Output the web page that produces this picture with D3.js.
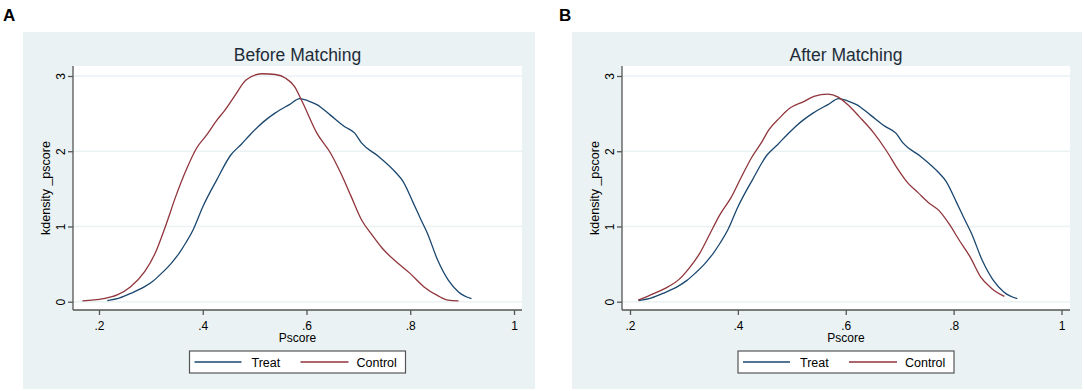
<!DOCTYPE html>
<html>
<head>
<meta charset="utf-8">
<script src="https://cdn.jsdelivr.net/npm/d3@7"></script>
<style>
  body { margin: 0; background: #ffffff; }
  text { font-family: "Liberation Sans", Arial, sans-serif; }
</style>
</head>
<body>
<div id="chart"></div>
<script>

// kernel density of propensity score
var treatDensity = [
    [0.216, 0.013], [0.240, 0.05], [0.261, 0.11], [0.288, 0.20], [0.305, 0.28], [0.321, 0.38],
    [0.338, 0.50], [0.354, 0.64], [0.368, 0.79], [0.381, 0.95], [0.400, 1.26],
    [0.427, 1.62], [0.454, 1.95], [0.474, 2.09], [0.490, 2.21], [0.507, 2.33],
    [0.524, 2.43], [0.540, 2.51], [0.567, 2.62], [0.587, 2.70], [0.603, 2.67],
    [0.620, 2.62], [0.646, 2.48], [0.673, 2.33], [0.693, 2.24], [0.706, 2.11],
    [0.739, 1.93], [0.773, 1.71], [0.786, 1.60], [0.806, 1.31], [0.820, 1.10],
    [0.833, 0.91], [0.853, 0.55], [0.873, 0.29], [0.893, 0.13], [0.918, 0.04]
]

var controlBefore = [
    [0.168, 0.01], [0.208, 0.04], [0.235, 0.09], [0.261, 0.20], [0.288, 0.40],
    [0.308, 0.64], [0.328, 1.00], [0.348, 1.40], [0.368, 1.75], [0.388, 2.04],
    [0.408, 2.22], [0.428, 2.42], [0.441, 2.53], [0.461, 2.73], [0.484, 2.95],
    [0.514, 3.03], [0.540, 3.02], [0.560, 2.97], [0.577, 2.86], [0.593, 2.64],
    [0.620, 2.24], [0.646, 1.98], [0.666, 1.71], [0.686, 1.40], [0.706, 1.09],
    [0.726, 0.89], [0.746, 0.71], [0.773, 0.53], [0.799, 0.38], [0.826, 0.20],
    [0.853, 0.08], [0.873, 0.02], [0.893, 0.01]
]

var controlAfter = [
    [0.215, 0.02], [0.245, 0.11], [0.271, 0.20], [0.290, 0.29], [0.309, 0.44],
    [0.329, 0.64], [0.348, 0.90], [0.367, 1.16], [0.387, 1.38], [0.406, 1.65],
    [0.425, 1.91], [0.445, 2.13], [0.457, 2.28], [0.477, 2.44], [0.496, 2.57],
    [0.522, 2.66], [0.541, 2.73], [0.567, 2.76], [0.586, 2.72], [0.605, 2.61],
    [0.625, 2.46], [0.650, 2.26], [0.676, 2.00], [0.695, 1.78], [0.715, 1.58],
    [0.734, 1.45], [0.753, 1.32], [0.773, 1.21], [0.792, 1.03], [0.811, 0.81],
    [0.831, 0.59], [0.850, 0.33], [0.870, 0.18], [0.894, 0.07]
]

var xTicks = [0.2, 0.4, 0.6, 0.8, 1]
var yTicks = [0, 1, 2, 3]
var seriesNames = ['Treat', 'Control']
var seriesColors = ['#1a476f', '#90353b']

var svg = d3.select('#chart')
    .append('svg')
    .attr('width', 1084)
    .attr('height', 391)

function fmtTick(d) {
    return d == 1 ? '1' : d3.format('.1f')(d).replace(/^0/, '')
}

function drawPanel(p, letter, title, treat, control) {

    svg.append('text')
        .attr('x', p.letterX)
        .attr('y', 21)
        .attr('font-size', 17)
        .attr('font-weight', 'bold')
        .text(letter)

    svg.append('rect')
        .attr('x', p.bgX).attr('y', 32)
        .attr('width', p.bgW).attr('height', 357)
        .attr('fill', '#eaf2f3')

    svg.append('rect')
        .attr('x', p.left).attr('y', 66)
        .attr('width', p.right - p.left).attr('height', 310 - 66)
        .attr('fill', '#ffffff')

    var x = d3.scaleLinear().domain([0.2, 1]).range([p.x0, p.x1])
    var y = d3.scaleLinear().domain([0, 3]).range([301.7, 76])

    // grid
    svg.append('g')
        .selectAll('line')
        .data(yTicks)
        .enter()
        .append('line')
        .attr('x1', p.left).attr('x2', p.right)
        .attr('y1', function(d) { return y(d) })
        .attr('y2', function(d) { return y(d) })
        .attr('stroke', '#eaf2f3')
        .attr('stroke-width', 1.5)

    var line = d3.line()
        .x(function(d) { return x(d[0]) })
        .y(function(d) { return y(d[1]) })
        .curve(d3.curveMonotoneX)

    svg.append('path')
        .datum(treat)
        .attr('d', line)
        .attr('fill', 'none')
        .attr('stroke', seriesColors[0])
        .attr('stroke-width', 1.3)

    svg.append('path')
        .datum(control)
        .attr('d', line)
        .attr('fill', 'none')
        .attr('stroke', seriesColors[1])
        .attr('stroke-width', 1.3)

    // axes
    var xAxis = d3.axisBottom(x).tickValues(xTicks).tickSize(5).tickFormat(fmtTick)
    var gx = svg.append('g')
        .attr('transform', 'translate(0,310)')
        .call(xAxis)
    gx.select('.domain').attr('d', 'M' + p.left + ',0H' + p.right)
    gx.selectAll('path, line').attr('stroke', '#555555').attr('stroke-width', 1.3)
    gx.selectAll('text')
        .attr('font-size', 12)
        .attr('font-family', '"Liberation Sans", Arial, sans-serif')
        .attr('fill', '#000')
        .attr('y', 19.5)
        .attr('dy', 0)

    var yAxis = d3.axisLeft(y).tickValues(yTicks).tickSize(5).tickFormat(d3.format('d'))
    var gy = svg.append('g')
        .attr('transform', 'translate(' + p.left + ',0)')
        .call(yAxis)
    gy.select('.domain').attr('d', 'M0,66V310')
    gy.selectAll('path, line').attr('stroke', '#555555').attr('stroke-width', 1.3)
    gy.selectAll('text')
        .attr('font-size', 12)
        .attr('font-family', '"Liberation Sans", Arial, sans-serif')
        .attr('fill', '#000')
        .attr('x', 0).attr('dy', 0)
        .attr('text-anchor', 'middle')
        .attr('transform', 'translate(-8,0) rotate(-90)')
        .attr('y', 0)

    var cx = (p.left + p.right) / 2

    svg.append('text')
        .attr('x', cx).attr('y', 61)
        .attr('text-anchor', 'middle')
        .attr('font-size', 17.5)
        .attr('fill', '#1e2c3a')
        .text(title)

    svg.append('text')
        .attr('x', cx).attr('y', 342)
        .attr('text-anchor', 'middle')
        .attr('font-size', 12)
        .text('Pscore')

    svg.append('text')
        .attr('transform', 'translate(' + (p.left - 23) + ',188) rotate(-90)')
        .attr('text-anchor', 'middle')
        .attr('font-size', 12.5)
        .text('kdensity _pscore')

    // legend
    var lx = cx - 108
    var lg = svg.append('g').attr('transform', 'translate(' + lx + ',351)')
    lg.append('rect')
        .attr('width', 216).attr('height', 22)
        .attr('fill', '#ffffff')
        .attr('stroke', '#555555')
        .attr('stroke-width', 1.2)

    var offs = [[5, 52, 62], [111, 159, 167]]
    seriesNames.forEach(function(name, i) {
        lg.append('line')
            .attr('x1', offs[i][0]).attr('x2', offs[i][1])
            .attr('y1', 11).attr('y2', 11)
            .attr('stroke', seriesColors[i])
            .attr('stroke-width', 1.3)
        lg.append('text')
            .attr('x', offs[i][2]).attr('y', 15.5)
            .attr('font-size', 12.5)
            .text(name)
    })
}

drawPanel({ letterX: 3, bgX: 23, bgW: 512, left: 73, right: 522, x0: 99, x1: 514 },
    'A', 'Before Matching', treatDensity, controlBefore)

drawPanel({ letterX: 559, bgX: 572, bgW: 510, left: 622, right: 1070, x0: 630, x1: 1061.5 },
    'B', 'After Matching', treatDensity, controlAfter)

</script>
</body>
</html>
